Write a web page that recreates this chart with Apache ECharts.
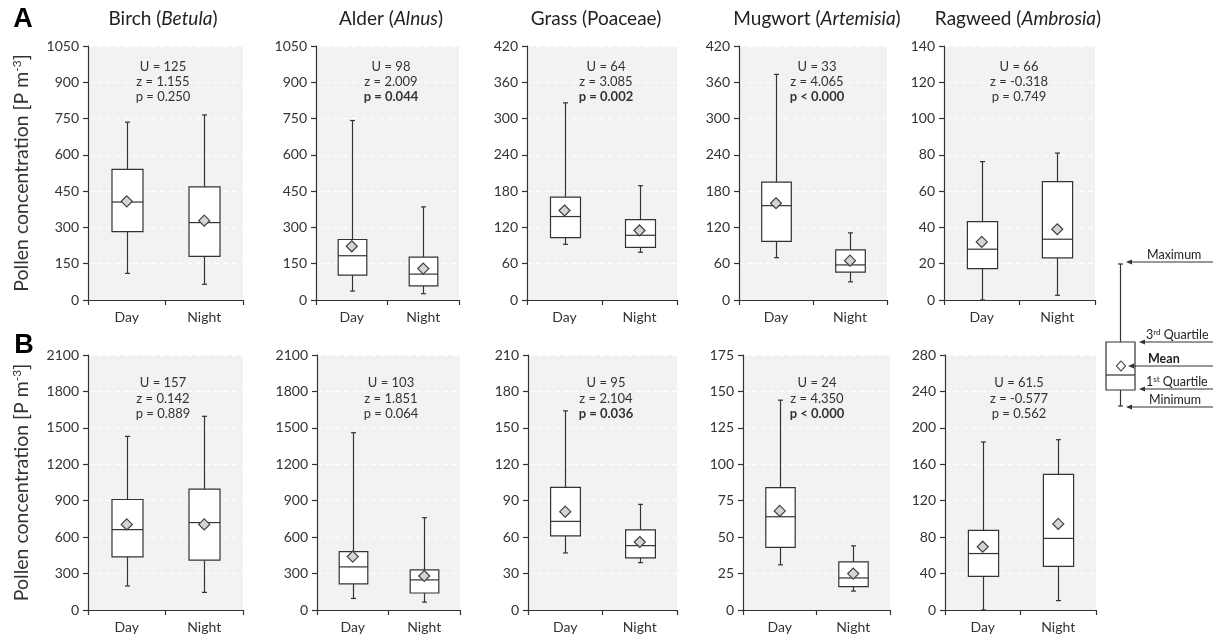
<!DOCTYPE html>
<html><head><meta charset="utf-8">
<script src="https://cdn.jsdelivr.net/npm/echarts@6/dist/echarts.min.js"></script>
<style>html,body{margin:0;padding:0;background:#fff}#c{width:1213px;height:638px}</style>
</head><body><div id="c"></div>
<script>
// ---------- data ----------
const categories = ['Day', 'Night'];
const titlesMain = ['Birch (', 'Alder (', 'Grass (Poaceae)', 'Mugwort (', 'Ragweed ('];
const titlesLatin = ['Betula', 'Alnus', '', 'Artemisia', 'Ambrosia'];
const yMaxA = [1050, 1050, 420, 420, 140];
const yMaxB = [2100, 2100, 210, 175, 280];
// [min, Q1, median, Q3, max]
const dayA = [[110,283,405,540,735],[37,103,183,250,742],[92,103,138,170,326],[70,97,156,195,373],[0,17.3,28,43.2,76.3]];
const nightA = [[65,180,320,468,765],[26,58,107,177,385],[79,87,107,133,189],[30,46,58,83,111],[2.6,23.2,33.5,65.3,81]];
const meanDayA = [408, 222, 148, 160, 32];
const meanNightA = [328, 130, 115, 65, 39];
const dayB = [[198,438,662,910,1430],[95,215,355,480,1460],[47,61,73,101,164],[31,43,64,84,144],[0,37,62,87.5,184.5]];
const nightB = [[145,410,720,995,1595],[65,140,248,330,760],[39,43,53,66,87],[13,16,22,33,44],[10.3,47.8,78.6,149,187]];
const meanDayB = [705, 440, 81, 68, 69.5];
const meanNightB = [705, 280, 56, 25, 94.5];
const uA = ['125','98','64','33','66'];
const zA = ['1.155','2.009','3.085','4.065','-0.318'];
const pA = ['p = 0.250','p = 0.044','p = 0.002','p < 0.000','p = 0.749'];
const sigA = [false,true,true,true,false];
const uB = ['157','103','95','24','61.5'];
const zB = ['0.142','1.851','2.104','4.350','-0.577'];
const pB = ['p = 0.889','p = 0.064','p = 0.036','p < 0.000','p = 0.562'];
const sigB = [false,false,true,true,false];

// ---------- layout ----------
const FONT = 'Lato, "Open Sans", sans-serif';
const leftA = [88, 316, 527, 739, 944], widthA = [155, 143, 150, 148, 151];
const leftB = [88, 317, 528, 743, 945], widthB = [155, 143, 149, 147, 151];
const rowTop = [46, 355], rowH = [254, 255];
const titleX = [163, 391, 596, 817, 1018];
const statX = [163, 391, 606, 817, 1019];
const statY = [[67, 82, 97], [383, 399, 414]];
const TXT = '#333';

function renderBox(params, api) {
  const c = api.value(0);
  const p = [1,2,3,4,5].map(i => api.coord([c, api.value(i)]));
  const cx = Math.round(p[0][0]) + 0.5;
  const bw = api.size([1, 0])[0] * 0.4;
  const st = { stroke: '#333', lineWidth: 1.2, fill: null };
  const cap = 2.5;
  return { type: 'group', children: [
    { type: 'line', shape: { x1: cx, y1: p[0][1], x2: cx, y2: p[1][1] }, style: st },
    { type: 'line', shape: { x1: cx, y1: p[3][1], x2: cx, y2: p[4][1] }, style: st },
    { type: 'line', shape: { x1: cx - cap, y1: p[0][1], x2: cx + cap, y2: p[0][1] }, style: st },
    { type: 'line', shape: { x1: cx - cap, y1: p[4][1], x2: cx + cap, y2: p[4][1] }, style: st },
    { type: 'rect', shape: { x: cx - bw / 2, y: p[3][1], width: bw, height: p[1][1] - p[3][1] }, style: { fill: '#fff', stroke: '#333', lineWidth: 1.2 } },
    { type: 'line', shape: { x1: cx - bw / 2, y1: p[2][1], x2: cx + bw / 2, y2: p[2][1] }, style: st }
  ]};
}

const grid = [], xAxis = [], yAxis = [], series = [], graphic = [];
const rows = [
  { left: leftA, width: widthA, yMax: yMaxA, day: dayA, night: nightA, md: meanDayA, mn: meanNightA, u: uA, z: zA, p: pA, sig: sigA },
  { left: leftB, width: widthB, yMax: yMaxB, day: dayB, night: nightB, md: meanDayB, mn: meanNightB, u: uB, z: zB, p: pB, sig: sigB }
];
rows.forEach((r, ri) => {
  for (let k = 0; k < 5; k++) {
    const gi = grid.length;
    grid.push({ left: r.left[k], top: rowTop[ri], width: r.width[k], height: rowH[ri], show: true,
      backgroundColor: '#f2f2f2', borderWidth: 0, containLabel: false, outerBoundsMode: 'none' });
    xAxis.push({ type: 'category', gridIndex: gi, data: categories, boundaryGap: true,
      axisLine: { show: true, lineStyle: { color: '#333', width: 1.2 } },
      axisTick: { show: true, length: 5, lineStyle: { color: '#333', width: 1.2 } },
      axisLabel: { color: TXT, fontFamily: FONT, fontSize: 14, margin: 10 },
      splitLine: { show: false } });
    const yA = { type: 'value', gridIndex: gi, min: 0, max: r.yMax[k], interval: r.yMax[k] / 7,
      axisLine: { show: true, lineStyle: { color: '#333', width: 1.2 } },
      axisTick: { show: true, length: 5, lineStyle: { color: '#333', width: 1.2 } },
      axisLabel: { color: TXT, fontFamily: FONT, fontSize: 14, margin: 9, formatter: v => String(v) },
      splitLine: { show: true, lineStyle: { color: '#ffffff', type: [5, 4], width: 1 } } };
    if (k === 0) {
      yA.name = '{n|Pollen concentration [P m}{s|-3}{n|]}';
      yA.nameLocation = 'middle';
      yA.nameGap = 56;
      yA.nameTextStyle = { rich: {
        n: { fontFamily: FONT, fontSize: 19.5, color: TXT },
        s: { fontFamily: FONT, fontSize: 12, color: TXT, verticalAlign: 'top', padding: [0, 0, 9, 0] } } };
    }
    yAxis.push(yA);
    series.push({ type: 'custom', xAxisIndex: gi, yAxisIndex: gi, renderItem: renderBox, z: 2,
      encode: { x: 0, y: [1, 2, 3, 4, 5] },
      data: [[0].concat(r.day[k]), [1].concat(r.night[k])] });
    series.push({ type: 'scatter', xAxisIndex: gi, yAxisIndex: gi, z: 3, symbol: 'diamond', symbolSize: [11, 11],
      itemStyle: { color: '#d4d4d4', borderColor: '#404040', borderWidth: 1.2, opacity: 1 },
      data: [[0, r.md[k]], [1, r.mn[k]]] });
    // stats text
    const lines = ['U = ' + r.u[k], 'z = ' + r.z[k], r.p[k]];
    lines.forEach((t, li) => {
      graphic.push({ type: 'text', z: 50, x: statX[k], y: statY[ri][li], style: {
        text: t, fill: TXT, font: ((li === 2 && r.sig[k]) ? 'bold ' : '') + '13px ' + FONT,
        textAlign: 'center', textVerticalAlign: 'middle' } });
    });
  }
});
// panel titles
for (let k = 0; k < 5; k++) {
  const txt = titlesLatin[k] ? '{n|' + titlesMain[k] + '}{i|' + titlesLatin[k] + '}{n|)}' : '{n|' + titlesMain[k] + '}';
  graphic.push({ type: 'text', z: 50, x: titleX[k], y: 19, style: { text: txt, textAlign: 'center', textVerticalAlign: 'middle',
    rich: { n: { fontFamily: FONT, fontSize: 19, fill: '#222' }, i: { fontFamily: FONT, fontSize: 19, fontStyle: 'italic', fill: '#222' } } } });
}
// panel letters
graphic.push({ type: 'text', z: 50, x: 23, y: 20, style: { text: 'A', font: 'bold 27px "Liberation Sans", Arial, sans-serif', fill: '#000', textAlign: 'center', textVerticalAlign: 'middle' } });
graphic.push({ type: 'text', z: 50, x: 24, y: 346, style: { text: 'B', font: 'bold 27px "Liberation Sans", Arial, sans-serif', fill: '#000', textAlign: 'center', textVerticalAlign: 'middle' } });

// legend schematic
const L = { stroke: '#333', lineWidth: 1.2 };
graphic.push({ type: 'line', z: 50, shape: { x1: 1120.5, y1: 264, x2: 1120.5, y2: 406 }, style: L });
graphic.push({ type: 'line', z: 50, shape: { x1: 1118, y1: 264, x2: 1123, y2: 264 }, style: L });
graphic.push({ type: 'line', z: 50, shape: { x1: 1118, y1: 406, x2: 1123, y2: 406 }, style: L });
graphic.push({ type: 'rect', z: 51, shape: { x: 1106, y: 342, width: 29, height: 48 }, style: { fill: '#fff', stroke: '#333', lineWidth: 1.2 } });
graphic.push({ type: 'line', z: 52, shape: { x1: 1106, y1: 375, x2: 1135, y2: 375 }, style: L });
graphic.push({ type: 'polygon', z: 52, shape: { points: [[1121, 361], [1125.5, 366], [1121, 371], [1116.5, 366]] }, style: { fill: '#fff', stroke: '#333', lineWidth: 1.1 } });
const arrows = [
  { y: 262, tip: 1126, label: '{n|Maximum}', tx: 1147 },
  { y: 342, tip: 1139, label: '{n|3}{s|rd}{n| Quartile}', tx: 1146 },
  { y: 366, tip: 1128, label: '{b|Mean}', tx: 1148 },
  { y: 389, tip: 1139, label: '{n|1}{s|st}{n| Quartile}', tx: 1146 },
  { y: 407, tip: 1126, label: '{n|Minimum}', tx: 1149 }
];
arrows.forEach(a => {
  graphic.push({ type: 'line', z: 53, shape: { x1: a.tip + 2, y1: a.y, x2: 1213, y2: a.y }, style: { stroke: '#333', lineWidth: 1.1 } });
  graphic.push({ type: 'polygon', z: 53, shape: { points: [[a.tip, a.y], [a.tip + 6, a.y - 2.5], [a.tip + 6, a.y + 2.5]] }, style: { fill: '#333' } });
  graphic.push({ type: 'text', z: 53, x: a.tx, y: a.y - 1, style: { text: a.label, textAlign: 'left', textVerticalAlign: 'bottom',
    rich: { n: { fontFamily: FONT, fontSize: 12.5, fill: '#222' }, b: { fontFamily: FONT, fontSize: 12.5, fontWeight: 'bold', fill: '#222' },
      s: { fontFamily: FONT, fontSize: 8, fill: '#222', verticalAlign: 'top', padding: [0, 0, 5, 0] } } } });
});

const chart = echarts.init(document.getElementById('c'), null, { renderer: 'canvas' });
chart.setOption({ animation: false, backgroundColor: '#fff', grid, xAxis, yAxis, series, graphic });
</script></body></html>
